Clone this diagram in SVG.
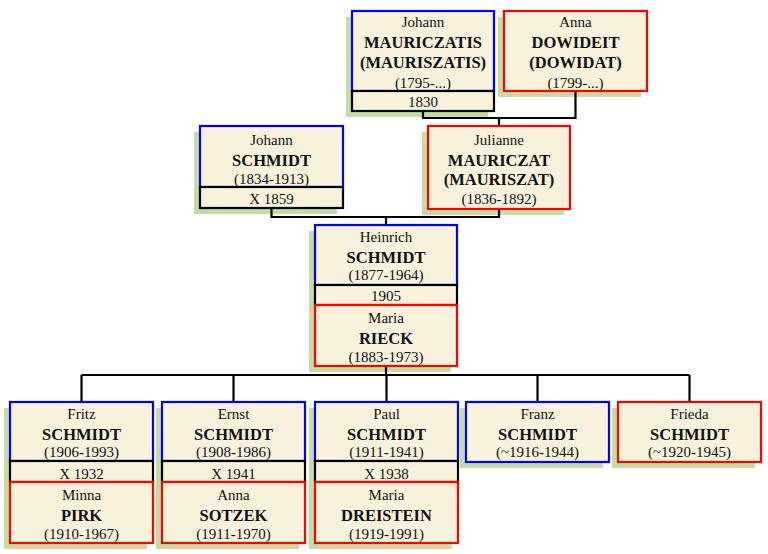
<svg xmlns="http://www.w3.org/2000/svg" width="768" height="554" viewBox="0 0 768 554">
<style>
.sh{fill:#c6dca3}
.m{fill:#f8f2dc;stroke:#0000ff;stroke-width:2.2}
.f{fill:#f8f2dc;stroke:#ff0000;stroke-width:2.2}
.x{fill:#f8f2dc;stroke:#000;stroke-width:2.2}
.c{fill:none;stroke:#000;stroke-width:2.2}
text{font-family:"Liberation Serif","Times New Roman",serif;text-anchor:middle;fill:#111}
.g{font-size:15px}
.s{font-size:16.5px;font-weight:bold}
.d{font-size:15px}
</style>
<g id="shadows">
<rect class="sh" x="346" y="17" width="142" height="100"/>
<rect class="sh" x="498" y="17" width="143" height="80"/>
<rect class="sh" x="194" y="132" width="143" height="82"/>
<rect class="sh" x="422" y="132" width="142" height="83"/>
<rect class="sh" x="309" y="231" width="142" height="141"/>
<rect class="sh" x="4" y="408" width="143" height="141"/>
<rect class="sh" x="156" y="408" width="143" height="141"/>
<rect class="sh" x="309" y="408" width="143" height="141"/>
<rect class="sh" x="460" y="408" width="143" height="60"/>
<rect class="sh" x="612" y="408" width="143" height="60"/>
</g>
<g id="connectors">
<path class="c" d="M423,111 V118 H575.5 V91 M499,118 V126"/>
<path class="c" d="M271.5,208 V217 H499 V209 M386,217 V225"/>
<path class="c" d="M386,366 V375 M81.5,375 H689.5 M81.5,375 V402 M233.5,375 V402 M386.5,375 V402 M537.5,375 V402 M689.5,375 V402"/>
</g>
<g id="johann-mauriczatis">
<rect class="m" x="352" y="11" width="142" height="80"/>
<text class="g" x="423" y="27">Johann</text>
<text class="s" x="423" y="48">MAURICZATIS</text>
<text class="s" x="423" y="68">(MAURISZATIS)</text>
<text class="d" x="423" y="87.5">(1795-...)</text>
</g>
<g id="marriage-1830">
<rect class="x" x="352" y="91" width="142" height="20"/>
<text class="d" x="423" y="107">1830</text>
</g>
<g id="anna-dowideit">
<rect class="f" x="504" y="11" width="143" height="80"/>
<text class="g" x="575.5" y="27">Anna</text>
<text class="s" x="575.5" y="48">DOWIDEIT</text>
<text class="s" x="575.5" y="68">(DOWIDAT)</text>
<text class="d" x="575.5" y="87.5">(1799-...)</text>
</g>
<g id="johann-schmidt">
<rect class="m" x="200" y="126" width="143" height="61"/>
<text class="g" x="271.5" y="145">Johann</text>
<text class="s" x="271.5" y="166">SCHMIDT</text>
<text class="d" x="271.5" y="184">(1834-1913)</text>
</g>
<g id="marriage-1859">
<rect class="x" x="200" y="187" width="143" height="21"/>
<text class="d" x="271.5" y="204">X 1859</text>
</g>
<g id="julianne-mauriczat">
<rect class="f" x="428" y="126" width="142" height="83"/>
<text class="g" x="499" y="145">Julianne</text>
<text class="s" x="499" y="166">MAURICZAT</text>
<text class="s" x="499" y="185">(MAURISZAT)</text>
<text class="d" x="499" y="203.5">(1836-1892)</text>
</g>
<g id="heinrich-schmidt">
<rect class="m" x="315" y="225" width="142" height="60"/>
<text class="g" x="386" y="242">Heinrich</text>
<text class="s" x="386" y="262.5">SCHMIDT</text>
<text class="d" x="386" y="280">(1877-1964)</text>
</g>
<g id="marriage-1905">
<rect class="x" x="315" y="285" width="142" height="20"/>
<text class="d" x="386" y="301">1905</text>
</g>
<g id="maria-rieck">
<rect class="f" x="315" y="305" width="142" height="61"/>
<text class="g" x="386" y="323">Maria</text>
<text class="s" x="386" y="344">RIECK</text>
<text class="d" x="386" y="361.5">(1883-1973)</text>
</g>
<g id="fritz-schmidt">
<rect class="m" x="10" y="402" width="143" height="59"/>
<text class="g" x="81.5" y="419">Fritz</text>
<text class="s" x="81.5" y="440">SCHMIDT</text>
<text class="d" x="81.5" y="457">(1906-1993)</text>
</g>
<g id="marriage-1932">
<rect class="x" x="10" y="461" width="143" height="21"/>
<text class="d" x="81.5" y="478.5">X 1932</text>
</g>
<g id="minna-pirk">
<rect class="f" x="10" y="482" width="143" height="61"/>
<text class="g" x="81.5" y="500">Minna</text>
<text class="s" x="81.5" y="521">PIRK</text>
<text class="d" x="81.5" y="539">(1910-1967)</text>
</g>
<g id="ernst-schmidt">
<rect class="m" x="162" y="402" width="143" height="59"/>
<text class="g" x="233.5" y="419">Ernst</text>
<text class="s" x="233.5" y="440">SCHMIDT</text>
<text class="d" x="233.5" y="457">(1908-1986)</text>
</g>
<g id="marriage-1941">
<rect class="x" x="162" y="461" width="143" height="21"/>
<text class="d" x="233.5" y="478.5">X 1941</text>
</g>
<g id="anna-sotzek">
<rect class="f" x="162" y="482" width="143" height="61"/>
<text class="g" x="233.5" y="500">Anna</text>
<text class="s" x="233.5" y="521">SOTZEK</text>
<text class="d" x="233.5" y="539">(1911-1970)</text>
</g>
<g id="paul-schmidt">
<rect class="m" x="315" y="402" width="143" height="59"/>
<text class="g" x="386.5" y="419">Paul</text>
<text class="s" x="386.5" y="440">SCHMIDT</text>
<text class="d" x="386.5" y="457">(1911-1941)</text>
</g>
<g id="marriage-1938">
<rect class="x" x="315" y="461" width="143" height="21"/>
<text class="d" x="386.5" y="478.5">X 1938</text>
</g>
<g id="maria-dreistein">
<rect class="f" x="315" y="482" width="143" height="61"/>
<text class="g" x="386.5" y="500">Maria</text>
<text class="s" x="386.5" y="521">DREISTEIN</text>
<text class="d" x="386.5" y="539">(1919-1991)</text>
</g>
<g id="franz-schmidt">
<rect class="m" x="466" y="402" width="143" height="60"/>
<text class="g" x="537.5" y="419">Franz</text>
<text class="s" x="537.5" y="440">SCHMIDT</text>
<text class="d" x="537.5" y="457">(~1916-1944)</text>
</g>
<g id="frieda-schmidt">
<rect class="f" x="618" y="402" width="143" height="60"/>
<text class="g" x="689.5" y="419">Frieda</text>
<text class="s" x="689.5" y="440">SCHMIDT</text>
<text class="d" x="689.5" y="457">(~1920-1945)</text>
</g>
</svg>
